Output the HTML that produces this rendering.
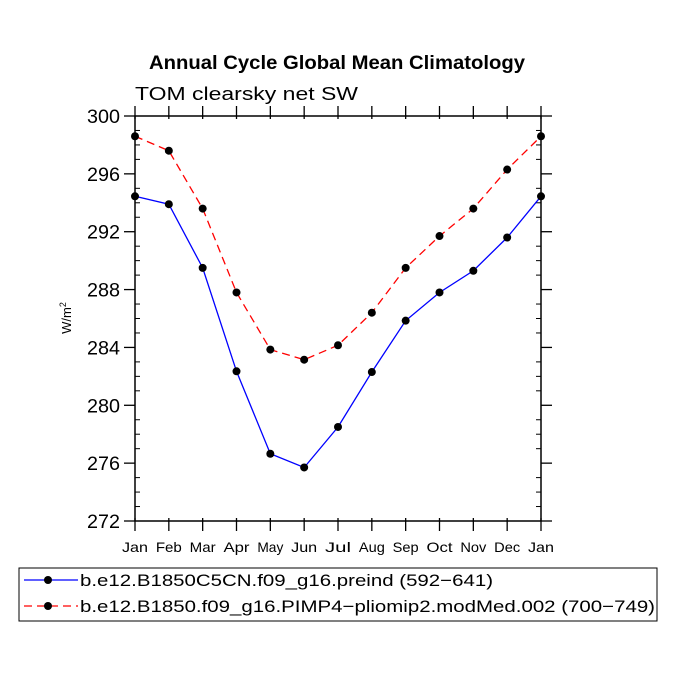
<!DOCTYPE html>
<html><head><style>
body{margin:0;background:#fff;}
svg{display:block;font-family:"Liberation Sans","DejaVu Sans",sans-serif;}
</style></head><body>
<svg id="c" width="675" height="675">
<text x="149" y="69" textLength="376" lengthAdjust="spacingAndGlyphs" font-family="Liberation Sans" font-weight="bold" font-size="19">Annual Cycle Global Mean Climatology</text>
<text x="135" y="100" textLength="223" lengthAdjust="spacingAndGlyphs" font-size="18">TOM clearsky net SW</text>
<text transform="translate(71,318) rotate(-90)" text-anchor="middle" font-size="13">W/m<tspan dy="-5" font-size="9">2</tspan></text>
<g id="g"></g>
<rect x="19" y="568" width="638" height="53" fill="none" stroke="#000" stroke-width="1"/>
<g>
<line x1="24" y1="580" x2="78" y2="580" stroke="#00f" stroke-width="1.3"/><circle cx="48" cy="580" r="4" fill="#000"/>
<text x="80" y="586" textLength="413" lengthAdjust="spacingAndGlyphs" font-size="17">b.e12.B1850C5CN.f09_g16.preind (592−641)</text></g>
<g>
<line x1="24" y1="606" x2="78" y2="606" stroke="#f00" stroke-width="1.3" stroke-dasharray="8,5"/><circle cx="48" cy="606" r="4" fill="#000"/>
<text x="80" y="612" textLength="575" lengthAdjust="spacingAndGlyphs" font-size="17">b.e12.B1850.f09_g16.PIMP4−pliomip2.modMed.002 (700−749)</text></g>
</svg>
<script>
const months=["Jan","Feb","Mar","Apr","May","Jun","Jul","Aug","Sep","Oct","Nov","Dec","Jan"];
const blueVals=[294.45,293.9,289.5,282.35,276.65,275.7,278.5,282.3,285.85,287.8,289.3,291.6,294.45];
const redVals=[298.6,297.6,293.6,287.8,283.85,283.15,284.15,286.4,289.5,291.7,293.6,296.3,298.6];
const yTicks=[272,276,280,284,288,292,296,300];
const L=135,R=541,T=116,B=521,ymin=272,ymax=300;
const xs=i=>L+(R-L)*i/(months.length-1);
const ys=v=>B-(v-ymin)/(ymax-ymin)*(B-T);
const g=document.getElementById('g');const NS='http://www.w3.org/2000/svg';
function mk(t,a,p){const e=document.createElementNS(NS,t);for(const k in a)e.setAttribute(k,a[k]);(p||g).appendChild(e);return e;}
const fr=mk('rect',{x:L,y:T,width:R-L,height:B-T,fill:'none',stroke:'#000','stroke-width':1.5});


for(let v=ymin;v<=ymax;v++){const y=ys(v);const maj=(v%4===0);
 if(maj){mk('line',{x1:L-11,y1:y,x2:L,y2:y,stroke:'#000','stroke-width':1.3});mk('line',{x1:R,y1:y,x2:R+11,y2:y,stroke:'#000','stroke-width':1.3});}
 else{mk('line',{x1:L,y1:y,x2:L+5,y2:y,stroke:'#000','stroke-width':1});mk('line',{x1:R-5,y1:y,x2:R,y2:y,stroke:'#000','stroke-width':1});}}
yTicks.forEach(v=>{const t=mk('text',{x:L-15,y:ys(v)+7,'text-anchor':'end','font-size':19,textLength:33,lengthAdjust:'spacingAndGlyphs'});t.textContent=v;

});
months.forEach((m,i)=>{const x=xs(i);
 mk('line',{x1:x,y1:B-3,x2:x,y2:B+10,stroke:'#000','stroke-width':1.3});
 mk('line',{x1:x,y1:T-10,x2:x,y2:T+3,stroke:'#000','stroke-width':1.3});
 const t=mk('text',{x:x,y:B+31,'text-anchor':'middle','font-size':14,textLength:26,lengthAdjust:'spacingAndGlyphs'});t.textContent=m;
 
 });
function series(vals,col,dash,name){
 const pl=mk('polyline',{points:vals.map((v,i)=>xs(i)+','+ys(v)).join(' '),fill:'none',stroke:col,'stroke-width':1.3,'stroke-dasharray':dash});
 
 
 vals.forEach((v,i)=>{const c=mk('circle',{cx:xs(i),cy:ys(v),r:4,fill:'#000'});
 
 });}
series(blueVals,'#00f','none','blue-series');
series(redVals,'#f00','8,5','red-series');
</script>
</body></html>
